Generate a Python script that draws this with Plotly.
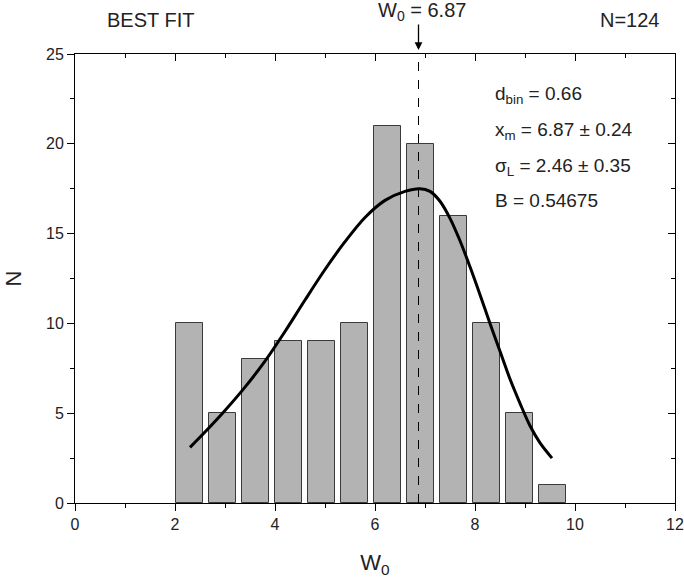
import plotly.graph_objects as go

# Histogram data (bin width 0.66)
bin_centers = [2.29, 2.95, 3.61, 4.27, 4.93, 5.59, 6.25, 6.91, 7.57, 8.23, 8.89, 9.55]
counts = [10, 5, 8, 9, 9, 10, 21, 20, 16, 10, 5, 1]

# Fitted curve
fit_x = [2.3, 2.6, 3.0, 3.4, 3.8, 4.2, 4.6, 5.0, 5.4, 5.8, 6.2, 6.6, 6.9,
         7.1, 7.3, 7.5, 7.7, 7.9, 8.1, 8.3, 8.5, 8.7, 8.9, 9.1, 9.3, 9.54]
fit_y = [3.1, 3.95, 5.15, 6.45, 7.9, 9.55, 11.3, 13.0, 14.55, 15.9, 16.85, 17.35, 17.5,
         17.35, 16.8, 15.85, 14.6, 13.15, 11.6, 10.0, 8.45, 6.9, 5.55, 4.3, 3.35, 2.5]

x_mark = 6.87
x_ticks = [0, 2, 4, 6, 8, 10, 12]
y_ticks = [0, 5, 10, 15, 20, 25]

FONT = "Liberation Sans, Arial, sans-serif"

fig = go.Figure()
fig.add_trace(go.Bar(
    x=bin_centers, y=counts, width=0.53,
    marker=dict(color="#b3b3b3", line=dict(color="#3a3a3a", width=1)),
    showlegend=False,
))
fig.add_trace(go.Scatter(
    x=fit_x, y=fit_y, mode="lines",
    line=dict(color="black", width=3, shape="spline", smoothing=0.9),
    showlegend=False,
))
# invisible trace for top/right mirror axes
fig.add_trace(go.Scatter(x=[0], y=[0], xaxis="x2", yaxis="y2", mode="markers",
                         marker=dict(opacity=0), showlegend=False, hoverinfo="skip"))

fig.add_shape(type="line", x0=x_mark, x1=x_mark, y0=0, y1=25, xref="x", yref="y",
              line=dict(color="black", width=1, dash="dash"))

axis_common = dict(showgrid=False, zeroline=False, showline=True, linecolor="black",
                   linewidth=1, tickcolor="black", automargin=False,
                   ticklabeloverflow="allow",
                   tickfont=dict(family=FONT, size=16, color="#222"))

fig.update_layout(
    width=684, height=581,
    margin=dict(l=75, r=9, t=54, b=78),
    paper_bgcolor="white", plot_bgcolor="white",
    bargap=0,
    xaxis=dict(range=[0, 12], tickvals=x_ticks, ticks="outside", ticklen=7,
               minor=dict(ticks="outside", dtick=1, ticklen=4, tickcolor="black"),
               title=dict(text="W<sub>0</sub>", font=dict(family=FONT, size=22, color="#222"),
                          standoff=22),
               **axis_common),
    yaxis=dict(range=[0, 25], tickvals=y_ticks, ticks="outside", ticklen=7,
               minor=dict(ticks="outside", dtick=2.5, ticklen=4, tickcolor="black"),
               title=dict(text="N", font=dict(family=FONT, size=22, color="#222"),
                          standoff=18),
               **axis_common),
    xaxis2=dict(range=[0, 12], overlaying="x", side="top", tickvals=x_ticks,
                ticks="inside", ticklen=7, showticklabels=False,
                minor=dict(ticks="inside", dtick=1, ticklen=4, tickcolor="black"),
                **axis_common),
    yaxis2=dict(range=[0, 25], overlaying="y", side="right", tickvals=y_ticks,
                ticks="inside", ticklen=7, showticklabels=False,
                minor=dict(ticks="inside", dtick=2.5, ticklen=4, tickcolor="black"),
                **axis_common),
)

tf = dict(family=FONT, size=20, color="#222")
fig.add_annotation(text="BEST FIT", xref="paper", yref="paper", x=30 / 600, y=1.0757,
                   showarrow=False, xanchor="left", yanchor="middle", font=tf)
fig.add_annotation(text="N=124", xref="paper", yref="paper", x=587 / 600, y=1.0757,
                   showarrow=False, xanchor="right", yanchor="middle", font=tf)
fig.add_annotation(text="W<sub>0</sub> = 6.87", xref="x", yref="paper", x=x_mark + 0.06,
                   y=1.094, showarrow=False, xanchor="center", yanchor="middle", font=tf)
fig.add_annotation(text="", xref="x", yref="paper", x=x_mark, y=1.009,
                   showarrow=True, arrowhead=2, arrowsize=1.2, arrowwidth=1.3,
                   arrowcolor="black", ax=0, ay=-27)

sf = dict(family=FONT, size=19, color="#222")
stats = ["d<sub>bin</sub> = 0.66", "x<sub>m</sub> = 6.87 ± 0.24",
         "σ<sub>L</sub> = 2.46 ± 0.35", "B = 0.54675"]
stat_y = [22.71, 20.70, 18.69, 16.85]
for s, yv in zip(stats, stat_y):
    fig.add_annotation(text=s, xref="x", yref="y", x=8.36, y=yv, showarrow=False,
                       xanchor="left", yanchor="middle", font=sf)

fig.write_html("out.html", config={"displayModeBar": False},
               post_script="document.body.style.margin='0';")
